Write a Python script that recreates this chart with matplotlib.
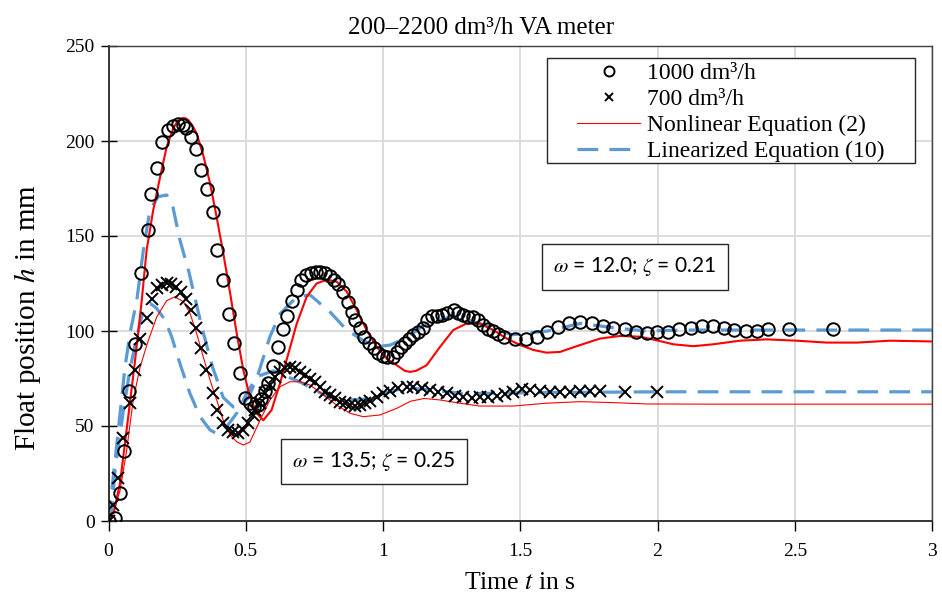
import matplotlib
matplotlib.use("Agg")
import matplotlib.pyplot as plt
from matplotlib.patches import Rectangle

plt.rcParams['font.family'] = ['Liberation Serif', 'DejaVu Serif']
plt.rcParams['mathtext.fontset'] = 'stix'

# measured points, 1000 dm3/h (circles)
t_1000 = [0, 0.024, 0.042, 0.058, 0.076, 0.097, 0.118, 0.143, 0.155, 0.178, 0.196, 0.216,
          0.234, 0.252, 0.270, 0.284, 0.299, 0.318, 0.337, 0.358, 0.380, 0.394, 0.418, 0.439,
          0.458, 0.479, 0.497, 0.515, 0.530, 0.545, 0.557, 0.570, 0.582, 0.598, 0.619, 0.637,
          0.651, 0.670, 0.686, 0.701, 0.720, 0.737, 0.755, 0.770, 0.789, 0.807, 0.822, 0.837,
          0.855, 0.874, 0.886, 0.898, 0.916, 0.932, 0.950, 0.967, 0.983, 0.999, 1.016, 1.035,
          1.050, 1.064, 1.080, 1.096, 1.110, 1.129, 1.145, 1.159, 1.177, 1.196, 1.214, 1.232,
          1.259, 1.274, 1.293, 1.311, 1.329, 1.347, 1.365, 1.384, 1.402, 1.420, 1.441, 1.481,
          1.521, 1.560, 1.596, 1.639, 1.678, 1.718, 1.760, 1.800, 1.839, 1.882, 1.922, 1.961,
          1.999, 2.039, 2.079, 2.121, 2.161, 2.201, 2.242, 2.280, 2.322, 2.361, 2.401, 2.480,
          2.640]
h_1000 = [0, 1.5, 15, 37, 68.6, 93, 130.7, 153, 172, 186, 199.6, 205.8,
          207.9, 209, 208.4, 206.7, 202, 196, 185, 175, 162.5, 142.6, 126.8, 108.8,
          93.5, 77.7, 64.6, 62, 60, 61, 64, 68.6, 72.5, 81.6, 91.7, 100.9,
          108, 116, 121.6, 126.8, 129.5, 130.7, 131.2, 131.2, 130.4, 129, 126.8, 124.6,
          120.7, 115.4, 110, 105.8, 101.4, 97, 93.5, 90.9, 88.6, 86.8, 86.1, 86.5,
          89, 91.4, 93.5, 95.6, 97.9, 99.6, 101.4, 105.8, 107.9, 107.9, 108.4, 109.3,
          111, 109.3, 108.4, 107.5, 107.5, 105.8, 103.2, 100.9, 100.2, 98.4, 96.7, 95.6,
          95.6, 97, 99.6, 102.3, 104, 104.6, 104, 102.6, 101.4, 100.9, 99.6, 99.1,
          99.3, 99.3, 100.9, 101.4, 102.6, 102.6, 101.4, 100.5, 100, 100, 100.9, 100.9,
          100.9]

# measured points, 700 dm3/h (crosses)
t_700 = [0, 0.015, 0.036, 0.054, 0.078, 0.097, 0.115, 0.139, 0.157, 0.176, 0.194, 0.212,
         0.229, 0.246, 0.264, 0.282, 0.299, 0.319, 0.336, 0.355, 0.380, 0.394, 0.416, 0.437,
         0.455, 0.473, 0.491, 0.509, 0.528, 0.534, 0.552, 0.570, 0.588, 0.607, 0.625, 0.643,
         0.661, 0.679, 0.698, 0.716, 0.734, 0.752, 0.770, 0.789, 0.807, 0.825, 0.843, 0.862,
         0.880, 0.898, 0.916, 0.934, 0.953, 0.977, 1.001, 1.025, 1.056, 1.086, 1.110, 1.141,
         1.171, 1.201, 1.232, 1.262, 1.293, 1.323, 1.353, 1.384, 1.414, 1.444, 1.475, 1.505,
         1.535, 1.572, 1.608, 1.645, 1.681, 1.718, 1.754, 1.790, 1.882, 1.997]
h_700 = [0, 8.4, 22.5, 43.5, 62, 79.5, 96, 106.6, 117, 122.5, 124.2, 125.4,
         125, 123.3, 120.7, 117, 111, 101.4, 90.9, 79.5, 67.2, 58.4, 51.4, 47.9,
         47, 46.1, 47.9, 51.4, 55.8, 58.4, 62.3, 67.2, 71.6, 75.9, 78.6, 80.4,
         81.2, 80.4, 78.6, 76.8, 75, 73.3, 70.7, 68, 66.3, 64.6, 62.8, 61.9,
         61, 60.5, 61, 61.9, 63.3, 65.4, 67.2, 68.5, 69.8, 70.3, 70.3, 69.8,
         69, 68, 67.2, 65.8, 65.4, 65, 65.4, 65.4, 65.8, 66.8, 68, 69.3,
         69, 68.6, 68, 68, 68, 68.6, 68.6, 68.6, 68, 68]

# nonlinear equation (2)
tn_1000 = [0, 0.02, 0.042, 0.072, 0.097, 0.121, 0.139, 0.163, 0.188, 0.212, 0.236, 0.252,
           0.267, 0.280, 0.291, 0.306, 0.321, 0.345, 0.37, 0.394, 0.418, 0.443, 0.467, 0.491,
           0.515, 0.54, 0.564, 0.594, 0.625, 0.655, 0.686, 0.722, 0.758, 0.795, 0.831, 0.868,
           0.904, 0.94, 0.977, 1.013, 1.05, 1.08, 1.098, 1.12, 1.159, 1.208, 1.256, 1.305,
           1.353, 1.402, 1.451, 1.5, 1.548, 1.596, 1.645, 1.718, 1.79, 1.863, 1.936, 2.0,
           2.058, 2.13, 2.203, 2.30, 2.398, 2.507, 2.616, 2.726, 2.847, 3.0]
hn_1000 = [0, 5, 20, 55, 84.7, 116, 142.6, 163.7, 181, 197, 206.7, 210.5,
           212, 212, 211, 208, 204, 192.6, 177.7, 160, 141, 120, 98.8, 79.5,
           65.4, 56.7, 53, 58.4, 72.5, 88, 104, 118, 125, 127, 126, 120.7,
           111, 100.5, 91.7, 85.5, 82, 79, 78.5, 79, 82, 91.7, 100.5, 104,
           104, 100.5, 96, 92.6, 90, 88.6, 89, 92.6, 96, 97.4, 97, 95,
           93, 92, 93, 94.9, 95.6, 94.9, 93.9, 93.9, 94.9, 94.5]
tn_700 = [0, 0.02, 0.042, 0.066, 0.09, 0.115, 0.145, 0.176, 0.212, 0.242, 0.273, 0.297,
          0.321, 0.345, 0.37, 0.394, 0.418, 0.443, 0.467, 0.491, 0.515, 0.552, 0.588, 0.625,
          0.661, 0.698, 0.734, 0.783, 0.831, 0.88, 0.928, 0.989, 1.05, 1.10, 1.15, 1.208,
          1.28, 1.353, 1.475, 1.596, 1.718, 1.839, 1.961, 2.2, 2.5, 2.8, 3.0]
hn_700 = [0, 5, 16, 37, 63.7, 81, 95, 107.5, 116, 118, 115.4, 109.3,
          98.8, 86.5, 74.2, 63.7, 53, 45.3, 41.7, 40, 41.5, 53, 63.7, 70.7,
          73.3, 73.3, 71.6, 66.3, 61, 56.7, 54.9, 55.8, 59.3, 63, 64.5, 63.7,
          62, 60.5, 60.5, 62, 62.8, 62.3, 61.6, 61.5, 61.5, 61.5, 61.5]

# linearized equation (10)
tl_1000 = [0, 0.03, 0.06, 0.08, 0.103, 0.127, 0.151, 0.181, 0.212, 0.235, 0.26, 0.293,
           0.34, 0.379, 0.418, 0.455, 0.48, 0.51, 0.54, 0.588, 0.625, 0.686, 0.734, 0.807,
           0.868, 0.928, 0.977, 1.026, 1.08, 1.15, 1.255, 1.35, 1.47, 1.6, 1.72, 1.85,
           1.96, 2.1, 2.5, 3.0]
hl_1000 = [0, 40, 81, 100, 116, 142.6, 163.7, 170.7, 171.6, 165, 148, 131,
           102, 81, 65, 60, 60, 65, 75, 97, 109, 118, 119, 110,
           100.5, 95, 91.7, 92.6, 96, 103, 108, 104, 98, 100, 104, 101.5,
           100, 100.5, 100.5, 100.5]
tl_700 = [0, 0.01, 0.024, 0.054, 0.078, 0.103, 0.127, 0.151, 0.175, 0.206, 0.23, 0.26,
          0.297, 0.333, 0.37, 0.394, 0.43, 0.467, 0.503, 0.54, 0.6, 0.65, 0.7, 0.75,
          0.807, 0.868, 0.928, 1.0, 1.05, 1.1, 1.2, 1.3, 1.5, 2.0, 3.0]
hl_700 = [0, 2, 27, 58, 79.5, 97, 111, 114.6, 112, 105.8, 97, 83,
          67, 55, 47.9, 46, 49.6, 56.7, 67, 76, 79, 76, 73, 69,
          65, 63.7, 64, 67, 69, 70, 68.5, 67, 67.5, 68, 68]

W, H = 942, 599
fig = plt.figure(figsize=(W / 100, H / 100), dpi=100)
ax = fig.add_axes([108.5 / W, 1 - 521 / H, (932 - 108.5) / W, (521 - 46) / H])

red = '#ff0000'
blue = '#5b9bd5'

ax.plot(tn_1000, hn_1000, color=red, lw=1.5, zorder=3)
ax.plot(tn_700, hn_700, color=red, lw=0.8, zorder=3, label='Nonlinear Equation (2)')
ax.plot(tl_1000, hl_1000, color=blue, lw=2.3, dashes=(6.5, 3.5), zorder=2)
ax.plot(tl_700, hl_700, color=blue, lw=2.3, dashes=(6.5, 3.5), zorder=2, label='Linearized Equation (10)')
ax.plot(t_1000, h_1000, 'o', ms=9, mfc='none', mec='black', mew=1.4, zorder=4, label='1000 dm³/h')
ax.plot(t_700, h_700, 'x', ms=8, mec='black', mew=1.4, zorder=4, label='700 dm³/h')

ax.set_xlim(0, 3)
ax.set_ylim(0, 250)
ax.set_xticks([0, 0.5, 1, 1.5, 2, 2.5, 3])
ax.set_xticklabels(['0', '0.5', '1', '1.5', '2', '2.5', '3'])
ax.set_yticks([0, 50, 100, 150, 200, 250])
ax.grid(True, color='#d9d9d9', lw=1.3)
ax.set_axisbelow(True)
for s in ['left', 'bottom']:
    ax.spines[s].set_color('#262626')
    ax.spines[s].set_linewidth(1.3)
for s in ['top', 'right']:
    ax.spines[s].set_color('#404040')
    ax.spines[s].set_linewidth(1.0)
ax.tick_params(axis='y', direction='inout', length=12, width=1.0, labelsize=14, pad=4)
ax.tick_params(axis='x', direction='out', length=7, width=1.0, labelsize=14, pad=9)

fig.text(520 / W, 1 - 583 / H, 'Time $t$ in s', ha='center', va='center', fontsize=18.5)
fig.text(28 / W, 1 - 318 / H, 'Float position $h$ in mm', ha='center', va='center',
         rotation=90, fontsize=21)
fig.text(481 / W, 1 - 28 / H, '200–2200 dm³/h VA meter', ha='center', va='center', fontsize=18)

# legend frame drawn separately (wide left margin as in the source)
ax.add_patch(Rectangle((547 / W, 1 - 163 / H), (915 - 547) / W, (163 - 58) / H,
                       transform=fig.transFigure, fc='white', ec='#262626', lw=1.0, zorder=5))
handles, labels = ax.get_legend_handles_labels()
order = [2, 3, 0, 1]
leg = ax.legend([handles[i] for i in order], [labels[i] for i in order],
                loc='upper left', bbox_to_anchor=(575 / W, 1 - 60 / H),
                bbox_transform=fig.transFigure, fontsize=17, frameon=False,
                borderpad=0.0, labelspacing=0.19, handlelength=2.65, handletextpad=0.3,
                borderaxespad=0.1, markerscale=0.8)
leg.set_zorder(6)

box = dict(boxstyle='square,pad=0.55', fc='white', ec='#262626', lw=1.0)
ax.text(1.918, 133.7, r'$\omega$ = 12.0; $\zeta$ = 0.21', ha='center', va='center',
        fontsize=15, family=['Lato', 'DejaVu Sans'], bbox=box, zorder=6)
ax.text(0.967, 31.3, r'$\omega$ = 13.5; $\zeta$ = 0.25', ha='center', va='center',
        fontsize=15, family=['Lato', 'DejaVu Sans'], bbox=box, zorder=6)

fig.savefig('out.png', dpi=100)
